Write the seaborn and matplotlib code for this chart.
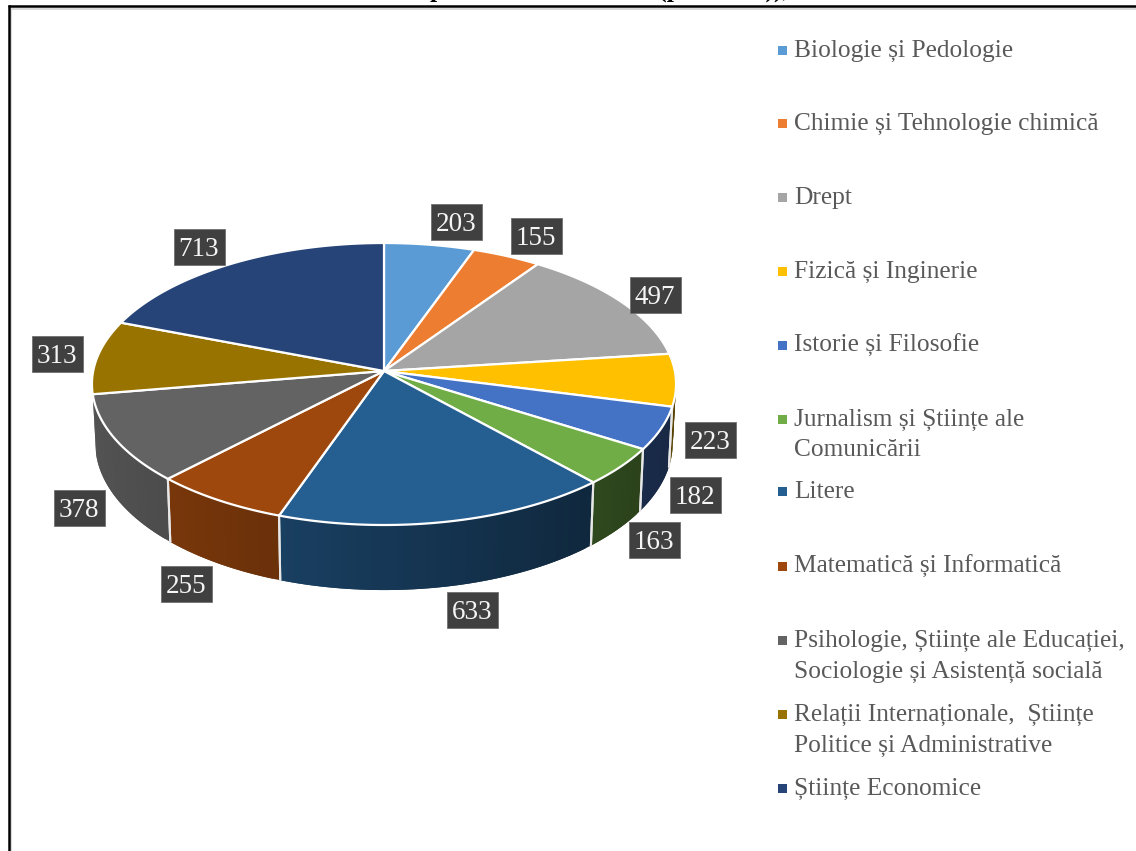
import numpy as np
import seaborn as sns
import matplotlib.pyplot as plt
from matplotlib.patches import Rectangle

# Date: numar pe domenii
domenii = ["Biologie și Pedologie", "Chimie și Tehnologie chimică", "Drept", "Fizică și Inginerie",
           "Istorie și Filosofie", "Jurnalism și Științe ale\nComunicării", "Litere",
           "Matematică și Informatică", "Psihologie, Științe ale Educației,\nSociologie și Asistență socială",
           "Relații Internaționale,  Științe\nPolitice și Administrative", "Științe Economice"]
valori = [203, 155, 497, 223, 182, 163, 633, 255, 378, 313, 713]
culori = ["#5b9bd5", "#ed7d31", "#a5a5a5", "#ffc000", "#4472c4", "#70ad47",
          "#255e91", "#9e480e", "#636363", "#997300", "#264478"]

# pozitii in pixeli (etichete si legenda)
eticheta_xy = [(456, 222), (536, 236), (655, 295), (710, 440), (695, 495), (654, 540),
               (472, 610), (186, 584), (79, 508), (57, 354), (199, 247)]
legenda_y = [50, 123, 197, 271, 345, 419, 491, 566, 640, 714, 788]

sns.set_theme(style="white")
plt.rcParams["font.family"] = ["Liberation Serif", "DejaVu Serif"]
paleta = sns.color_palette(culori)

fig = plt.figure(figsize=(11.36, 8.51), dpi=100)
ax = fig.add_axes([0, 0, 1, 1])
ax.set_xlim(0, 1136)
ax.set_ylim(851, 0)
ax.axis("off")

K = 0.0922


def rim(theta, cy, a, b):
    # cerc proiectat in perspectiva
    u, v = np.sin(theta), np.cos(theta)
    w = 1 + K * v
    return 384 + b * u / w, cy - a * v / w


def sus(theta):
    return rim(theta, 371, 139.8, 290.8)


def jos(theta):
    return rim(theta, 429.5, 145.75, 287.5)


unghiuri = np.concatenate([[0], np.cumsum(valori)]) / np.sum(valori) * 2 * np.pi

# fata laterala, cu gradient
for i, c in enumerate(paleta):
    t0, t1 = max(unghiuri[i], np.pi * 0.5), min(unghiuri[i + 1], np.pi * 1.447)
    if t1 <= t0:
        continue
    pasi = np.linspace(t0, t1, int((t1 - t0) * 40) + 2)
    for k, (a0, a1) in enumerate(zip(pasi[:-1], pasi[1:])):
        # fiecare fasie trece peste urmatoarea ca sa nu apara dungi
        a2 = pasi[min(k + 2, len(pasi) - 1)]
        xs, ys = sus(np.linspace(a0, a2, 6))
        xj, yj = jos(np.linspace(a2, a0, 6))
        umbra = 0.59 - 0.25 * np.sin((a0 + a1) / 2)
        culoare = tuple(np.array(c) * umbra)
        ax.fill(np.r_[xs, xj], np.r_[ys, yj], color=culoare, lw=0, zorder=2)
    for t in (unghiuri[i], unghiuri[i + 1]):
        if np.pi * 0.55 < t < np.pi * 1.44:
            xa, ya = sus(t)
            xb, yb = jos(t)
            ax.plot([xa, xb], [ya, yb], color="#e8e8e8", lw=1.5, zorder=3)

# fata de sus
for i, c in enumerate(paleta):
    t = np.linspace(unghiuri[i], unghiuri[i + 1], 120)
    x, y = sus(t)
    ax.fill(np.r_[384, x], np.r_[371, y], facecolor=c, edgecolor="white", lw=1.6, joinstyle="round", zorder=4)

# etichete
for (x, y), v in zip(eticheta_xy, valori):
    ax.add_patch(Rectangle((x - 25.5, y - 18), 51, 36, facecolor="#404040", edgecolor="#707070", lw=0.6, zorder=5))
    ax.text(x, y + 9, str(v), color="#f5f5f5", fontsize=19.5, ha="center", va="baseline", zorder=6)

# legenda
for nume, c, y in zip(domenii, paleta, legenda_y):
    ax.add_patch(Rectangle((778, y - 4), 9, 8.5, facecolor=c, edgecolor="none"))
    for j, rand in enumerate(nume.split("\n")):
        ax.text(794, y + 7 + 30.5 * j, rand, color="#595959", fontsize=18.3, ha="left", va="baseline")

# cadru si titlul taiat
ax.plot([11, 11], [851, 9], color="#d9d9d9", lw=1.5)
ax.plot([11, 1136], [9, 9], color="#d9d9d9", lw=1.5)
ax.plot([8.5, 8.5], [851, 6], color="black", lw=1.8, solid_capstyle="projecting")
ax.plot([8.5, 1136], [6, 6], color="black", lw=1.8)
ax.text(430, -3, "pe domenii de studii (persoane)),", fontsize=18.5, fontweight="bold", color="black",
        ha="left", va="baseline")

fig.savefig("out.png", dpi=100)
